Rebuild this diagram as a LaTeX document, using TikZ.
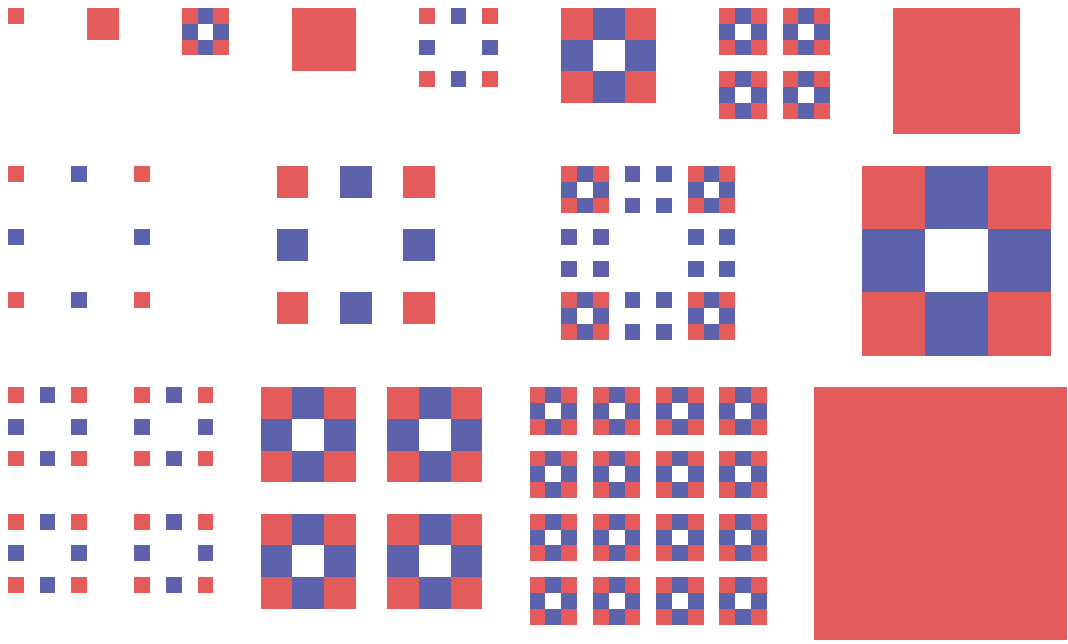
\documentclass[tikz,border=0pt]{standalone}
\definecolor{tilered}{RGB}{228,91,91}
\definecolor{tileblue}{RGB}{92,98,172}
\tikzset{
    redtile/.style={fill=tilered},
    bluetile/.style={fill=tileblue},
    pics/tilering/.style 2 args={code={
        \foreach \i/\j/\c in {0/0/tilered,1/0/tileblue,2/0/tilered,0/1/tileblue,2/1/tileblue,0/2/tilered,1/2/tileblue,2/2/tilered}
            \fill[fill=\c] (\i*#2,\j*#2) rectangle ++(#1,#1);
    }},
    pics/tilequad/.style={code={
        \foreach \i/\j in {0/0,2/0,0/2,2/2}
            \fill[bluetile] (\i,\j) rectangle ++(1,1);
    }}
}

\begin{document}
\begin{tikzpicture}[x=4mm,y=-4mm]
            \useasboundingbox (0,0) rectangle (67.55,40.67);
            \fill[redtile] (0.5,0.5) rectangle ++(1,1);
            \fill[redtile] (5.5,0.5) rectangle ++(2,2);
            \pic at (11.5,0.5) {tilering={1}{1}};
            \fill[redtile] (18.5,0.5) rectangle ++(4,4);
            \pic at (26.5,0.5) {tilering={1}{2}};
            \pic at (35.5,0.5) {tilering={2}{2}};
            \foreach \i/\j in {0/0,4/0,0/4,4/4}
                \pic at (45.5+\i,0.5+\j) {tilering={1}{1}};
            \fill[redtile] (56.5,0.5) rectangle ++(8,8);
            \pic at (0.5,10.5) {tilering={1}{4}};
            \pic at (17.5,10.5) {tilering={2}{4}};
            \foreach \i/\j in {0/0,8/0,0/8,8/8}
                \pic at (35.5+\i,10.5+\j) {tilering={1}{1}};
            \foreach \i/\j in {4/0,0/4,8/4,4/8}
                \pic at (35.5+\i,10.5+\j) {tilequad};
            \pic at (54.5,10.5) {tilering={4}{4}};
            \foreach \i/\j in {0/0,8/0,0/8,8/8}
                \pic at (0.5+\i,24.5+\j) {tilering={1}{2}};
            \foreach \i/\j in {0/0,8/0,0/8,8/8}
                \pic at (16.5+\i,24.5+\j) {tilering={2}{2}};
            \foreach \i in {0,4,8,12}
                \foreach \j in {0,4,8,12}
                    \pic at (33.5+\i,24.5+\j) {tilering={1}{1}};
            \fill[redtile] (51.5,24.5) rectangle ++(16,16);
        \end{tikzpicture}
\end{document}
